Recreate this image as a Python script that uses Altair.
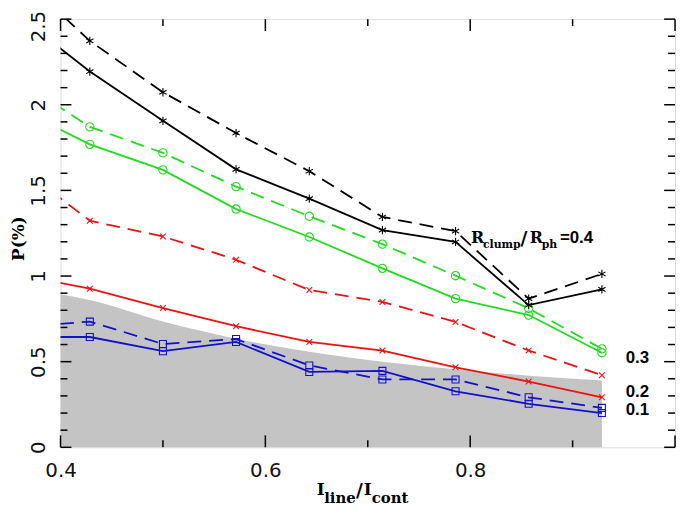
import altair as alt
import pandas as pd

# ---- data ----
x_pts = [0.3571, 0.4286, 0.5, 0.5714, 0.6429, 0.7143, 0.7857, 0.8571, 0.9286]

black_dash = [2.77, 2.373, 2.073, 1.835, 1.612, 1.345, 1.262, 0.868, 1.012]
black_solid = [2.53, 2.194, 1.906, 1.623, 1.452, 1.268, 1.199, 0.830, 0.922]
green_dash = [2.15, 1.871, 1.719, 1.522, 1.349, 1.186, 1.002, 0.811, 0.575]
green_solid = [1.98, 1.769, 1.620, 1.391, 1.228, 1.045, 0.868, 0.772, 0.552]
red_dash = [1.65, 1.323, 1.231, 1.095, 0.918, 0.849, 0.732, 0.565, 0.421]
red_solid = [1.01, 0.926, 0.813, 0.707, 0.615, 0.565, 0.467, 0.384, 0.292]
blue_dash = [0.70, 0.734, 0.603, 0.632, 0.478, 0.396, 0.396, 0.292, 0.230]
blue_solid = [0.644, 0.644, 0.561, 0.615, 0.440, 0.446, 0.327, 0.254, 0.200]

shade_x = [0.4, 0.4286, 0.5, 0.5714, 0.6429, 0.7143, 0.7857, 0.8571, 0.9286]
shade_y = [0.893, 0.860, 0.734, 0.634, 0.558, 0.500, 0.455, 0.418, 0.390]

x_label_vals = [0.4, 0.6, 0.8]
y_label_vals = [0, 0.5, 1, 1.5, 2, 2.5]
x_major_ticks = [0.4, 0.6, 0.8, 1.0]
x_minor_ticks = [0.5, 0.7, 0.9]
y_major_ticks = [0, 0.5, 1.0, 1.5, 2.0, 2.5]
y_minor_ticks = [0.1, 0.2, 0.3, 0.4, 0.6, 0.7, 0.8, 0.9, 1.1, 1.2, 1.3, 1.4,
                 1.6, 1.7, 1.8, 1.9, 2.1, 2.2, 2.3, 2.4]

W, H = 620, 432

xscale = alt.Scale(domain=[0.4, 1.0], nice=False, zero=False)
yscale = alt.Scale(domain=[0, 2.5], nice=False, zero=False)

xaxis = alt.Axis(values=x_label_vals, format=".1f", title=None, grid=False,
                 ticks=False, tickSize=0, domain=False, labelFont="DejaVu Sans",
                 labelFontSize=20, labelColor="#111", labelBaseline="alphabetic",
                 labelPadding=29, labelFlush=False, labelOverlap=False)
yaxis = alt.Axis(values=y_label_vals, format="~g", title="P(%)", grid=False,
                 ticks=False, tickSize=0, domain=False, labelFont="DejaVu Sans",
                 labelFontSize=20, labelColor="#111", labelAngle=270,
                 labelAlign="center", labelBaseline="alphabetic", labelPadding=16,
                 labelOffset={"condition": {"test": "datum.value == 2.5", "value": 7},
                              "value": 0},
                 labelFlush=False, labelOverlap=False,
                 titleFont="DejaVu Serif", titleFontWeight="bold", titleFontSize=17,
                 titleColor="black", titleAngle=270, titleX=-42, titleY=221,
                 titleAlign="center", titleBaseline="middle")


def X(field):
    return alt.X(f"{field}:Q", scale=xscale, axis=xaxis)


def Y(field):
    return alt.Y(f"{field}:Q", scale=yscale, axis=yaxis)


layers = []

# gray shaded region
shade_df = pd.DataFrame({"x": shade_x, "y": shade_y})
layers.append(alt.Chart(shade_df).mark_area(color="#c4c4c4", interpolate="monotone")
              .encode(x=X("x"), y=Y("y")))

ASTER = "M0,-1L0,1M-0.87,-0.5L0.87,0.5M-0.87,0.5L0.87,-0.5"
XCROSS = "M-0.75,-0.75L0.75,0.75M-0.75,0.75L0.75,-0.75"

GREEN = "#1fdc1f"
RED = "#ee1111"
BLUE = "#1111cc"
BLACK = "#000000"

series = [
    (blue_dash, BLUE, True, "square", 50),
    (blue_solid, BLUE, False, "square", 50),
    (red_dash, RED, True, XCROSS, 60),
    (red_solid, RED, False, XCROSS, 60),
    (green_dash, GREEN, True, "circle", 70),
    (green_solid, GREEN, False, "circle", 70),
    (black_dash, BLACK, True, ASTER, 70),
    (black_solid, BLACK, False, ASTER, 70),
]

for yvals, color, dashed, shape, size in series:
    df = pd.DataFrame({"x": x_pts, "y": yvals})
    base = alt.Chart(df)
    lkw = dict(color=color, strokeWidth=1.8, clip=True)
    if dashed:
        lkw["strokeDash"] = [14, 8]
    layers.append(base.mark_line(**lkw).encode(x=X("x"), y=Y("y")))
    layers.append(base.transform_filter(alt.datum.x > 0.4)
                  .mark_point(shape=shape, size=size, filled=False, color=color,
                              strokeWidth=1.1, opacity=1)
                  .encode(x=X("x"), y=Y("y")))

# inward ticks on all four sides
tick_kw = dict(color="black", strokeWidth=1.5)
xM = pd.DataFrame({"v": x_major_ticks})
xm = pd.DataFrame({"v": x_minor_ticks})
yM = pd.DataFrame({"v": y_major_ticks})
ym = pd.DataFrame({"v": y_minor_ticks})
for d, ln in ((xM, 12), (xm, 7)):
    layers.append(alt.Chart(d).mark_rule(**tick_kw).encode(
        x=X("v"), y=alt.value(H), y2=alt.value(H - ln)))
    layers.append(alt.Chart(d).mark_rule(**tick_kw).encode(
        x=X("v"), y=alt.value(0), y2=alt.value(ln)))
for d, ln in ((yM, 11), (ym, 7)):
    layers.append(alt.Chart(d).mark_rule(**tick_kw).encode(
        y=Y("v"), x=alt.value(0), x2=alt.value(ln)))
    layers.append(alt.Chart(d).mark_rule(**tick_kw).encode(
        y=Y("v"), x=alt.value(W), x2=alt.value(W - ln)))

one = pd.DataFrame({"k": [0]})
SERIF = "DejaVu Serif"
SANS = "Liberation Sans"


def note(text, xd, yd, font, size, align="left"):
    # annotation placed in data coordinates (through the chart's scales)
    return alt.Chart(one).mark_text(text=text, font=font, fontSize=size,
                                    fontWeight="bold", align=align,
                                    baseline="alphabetic", color="black").encode(
        x=alt.XDatum(xd, scale=xscale, axis=xaxis),
        y=alt.YDatum(yd, scale=yscale, axis=yaxis))


def label(text, px, py, font, size):
    return alt.Chart(one).mark_text(text=text, font=font, fontSize=size,
                                    fontWeight="bold", align="left",
                                    baseline="alphabetic", color="black").encode(
        x=alt.value(px), y=alt.value(py))


# R_clump/R_ph=0.4 and the 0.3 / 0.2 / 0.1 labels
layers += [
    note("R", 0.8008, 1.194, SERIF, 16),
    note("clump", 0.8124, 1.161, SERIF, 11),
    note("/", 0.8490, 1.180, SERIF, 19),
    note("R", 0.8582, 1.194, SERIF, 16),
    note("ph", 0.8698, 1.161, SERIF, 11),
    note("=0.4", 0.8876, 1.194, SANS, 17),
    note("0.3", 0.9633, 0.495, SANS, 17, align="center"),
    note("0.2", 0.9633, 0.292, SANS, 17, align="center"),
    note("0.1", 0.9633, 0.190, SANS, 17, align="center"),
]

# x-axis title I_line/I_cont
TY, SY = H + 48, H + 56
layers += [
    label("I", 258.5, TY, SERIF, 17),
    label("line", 266, SY, SERIF, 15),
    label("/", 298, TY + 2, SERIF, 19),
    label("I", 306, TY, SERIF, 17),
    label("cont", 314, SY, SERIF, 15),
]

chart = alt.layer(*layers).properties(
    width=W, height=H,
    autosize=alt.AutoSizeParams(type="none"),
    padding={"left": 53, "top": 9, "right": 3, "bottom": 57},
).configure_view(stroke="black", strokeWidth=1.6).configure(background="white")

chart.save("out.html", embed_options={"renderer": "svg", "actions": False})
